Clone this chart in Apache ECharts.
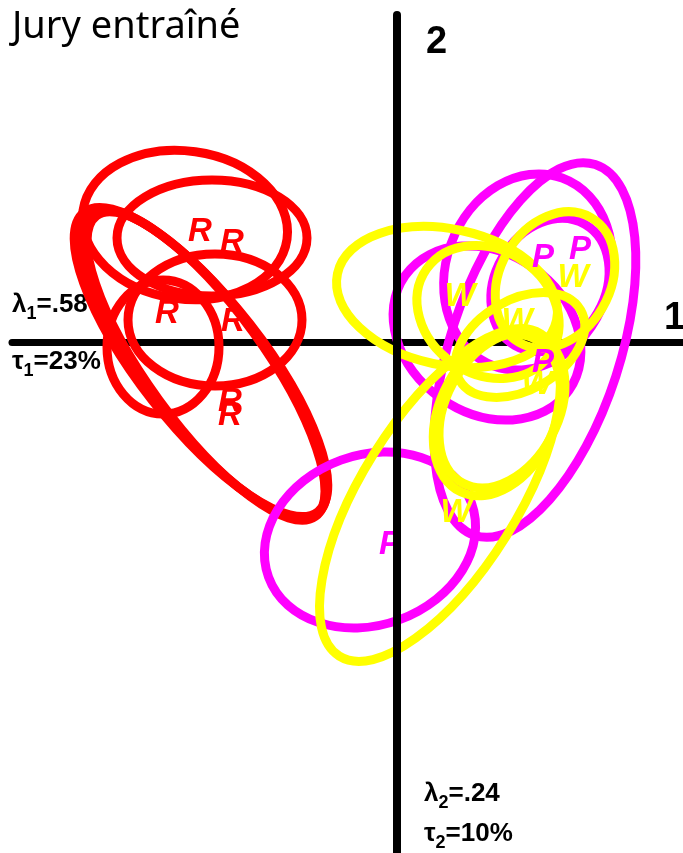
<!DOCTYPE html>
<html>
<head>
<meta charset="utf-8">
<title>Jury entraîné</title>
<script src="https://cdn.jsdelivr.net/npm/echarts@6/dist/echarts.min.js"></script>
<style>
  html, body { margin: 0; padding: 0; background: #fff; }
  #chart { width: 683px; height: 853px; }
</style>
</head>
<body>
<div id="chart"></div>
<script>
// ellipses : [cx, cy, demi-axe a, demi-axe b, angle (degres)]
var redEllipses = [
    [-2.12, 1.17, 1.03, 0.74, -8],
    [-1.85, 1.04, 0.95, 0.58, 0],
    [-1.82, 0.22, 0.87, 0.66, 0],
    [-2.34, -0.05, 0.56, 0.67, 0],
    [-1.96, -0.20, 1.90, 0.62, -52],
    [-1.91, -0.24, 1.86, 0.58, -54],
    [-1.93, -0.22, 1.88, 0.60, -53]
];
var magentaEllipses = [
    [1.38, -0.08, 1.95, 0.85, 72],
    [1.31, 0.70, 1.00, 0.82, 70],
    [0.90, 0.09, 1.00, 0.80, -35],
    [1.53, 0.57, 0.70, 0.55, 60],
    [-0.27, -1.98, 1.08, 0.85, 20]
];
var yellowEllipses = [
    [0.50, 0.45, 1.12, 0.68, -12],
    [0.91, 0.30, 0.75, 0.62, -35],
    [1.58, 0.62, 0.72, 0.55, 60],
    [1.23, -0.03, 0.70, 0.45, 30],
    [1.00, -0.73, 0.85, 0.58, 65],
    [1.05, -0.68, 0.83, 0.56, 62],
    [0.43, -1.53, 1.90, 0.78, 58]
];

// centres des produits
var redPoints = [[-1.97, 1.10], [-1.65, 0.99], [-2.30, 0.28], [-1.64, 0.20], [-1.67, -0.60], [-1.67, -0.74]];
var magentaPoints = [[1.46, 0.84], [1.83, 0.92], [1.46, -0.21], [-0.07, -2.03]];
var yellowPoints = [[0.63, 0.45], [1.76, 0.64], [1.20, 0.20], [1.40, -0.43], [0.59, -1.71]];

var xRange = [-3.85, 2.86];
var yRange = [-5.11, 3.27];

var chart = echarts.init(document.getElementById('chart'));

function ellipseItem(color) {
    return function (params, api) {
        var c = api.coord([api.value(0), api.value(1)]);
        var s = api.size([1, 1]);
        return {
            type: 'ellipse',
            x: c[0],
            y: c[1],
            rotation: api.value(4) * Math.PI / 180,
            shape: { cx: 0, cy: 0, rx: api.value(2) * s[0], ry: api.value(3) * s[1] },
            style: { fill: 'none', stroke: color, lineWidth: 9 }
        };
    };
}

function letterSeries(data, letter, color) {
    return {
        type: 'scatter',
        data: data,
        symbolSize: 1,
        silent: true,
        z: 5,
        itemStyle: { color: 'rgba(0,0,0,0)' },
        label: {
            show: true,
            position: 'inside',
            formatter: letter,
            color: color,
            opacity: 1,
            textBorderWidth: 0,
            fontSize: 33,
            fontWeight: 'bold',
            fontStyle: 'italic',
            fontFamily: 'Liberation Sans'
        }
    };
}

var subStyle = {
    a: { fontSize: 26, fontWeight: 'bold', fontFamily: 'Liberation Sans', fill: '#000', lineHeight: 36 },
    s: { fontSize: 18, fontWeight: 'bold', fontFamily: 'Liberation Sans', fill: '#000', verticalAlign: 'bottom' }
};

var option = {
    animation: false,
    backgroundColor: '#fff',
    grid: { left: 12, right: 0, top: 15, bottom: 0 },
    xAxis: {
        type: 'value',
        min: xRange[0],
        max: xRange[1],
        z: 0,
        axisLine: { onZero: true, lineStyle: { color: '#000', width: 7 } },
        axisTick: { show: false },
        axisLabel: { show: false },
        splitLine: { show: false }
    },
    yAxis: {
        type: 'value',
        min: yRange[0],
        max: yRange[1],
        z: 10,
        axisLine: { onZero: true, lineStyle: { color: '#000', width: 8 } },
        axisTick: { show: false },
        axisLabel: { show: false },
        splitLine: { show: false }
    },
    graphic: [
        { type: 'text', left: 12, top: 8, style: { text: 'Jury entraîné', fontSize: 38, fontFamily: 'Noto Sans', fill: '#000' } },
        { type: 'text', left: 426, top: 24, style: { text: '2', fontSize: 38, fontWeight: 'bold', fontFamily: 'Liberation Sans', fill: '#000' } },
        { type: 'text', left: 664, top: 300, style: { text: '1', fontSize: 38, fontWeight: 'bold', fontFamily: 'Liberation Sans', fill: '#000' } },
        { type: 'text', left: 12, top: 292, style: { text: '{a|λ}{s|1}{a|=.58}', rich: subStyle } },
        { type: 'text', left: 12, top: 349, style: { text: '{a|τ}{s|1}{a|=23%}', rich: subStyle } },
        { type: 'text', left: 424, top: 781, style: { text: '{a|λ}{s|2}{a|=.24}', rich: subStyle } },
        { type: 'text', left: 424, top: 821, style: { text: '{a|τ}{s|2}{a|=10%}', rich: subStyle } }
    ],
    series: [
        { type: 'custom', renderItem: ellipseItem('#ff0000'), data: redEllipses, silent: true, z: 2 },
        { type: 'custom', renderItem: ellipseItem('#ff00ff'), data: magentaEllipses, silent: true, z: 3 },
        { type: 'custom', renderItem: ellipseItem('#ffff00'), data: yellowEllipses, silent: true, z: 4 },
        letterSeries(redPoints, 'R', '#ff0000'),
        letterSeries(magentaPoints, 'P', '#ff00ff'),
        letterSeries(yellowPoints, 'W', '#ffff00')
    ]
};

chart.setOption(option);
</script>
</body>
</html>
